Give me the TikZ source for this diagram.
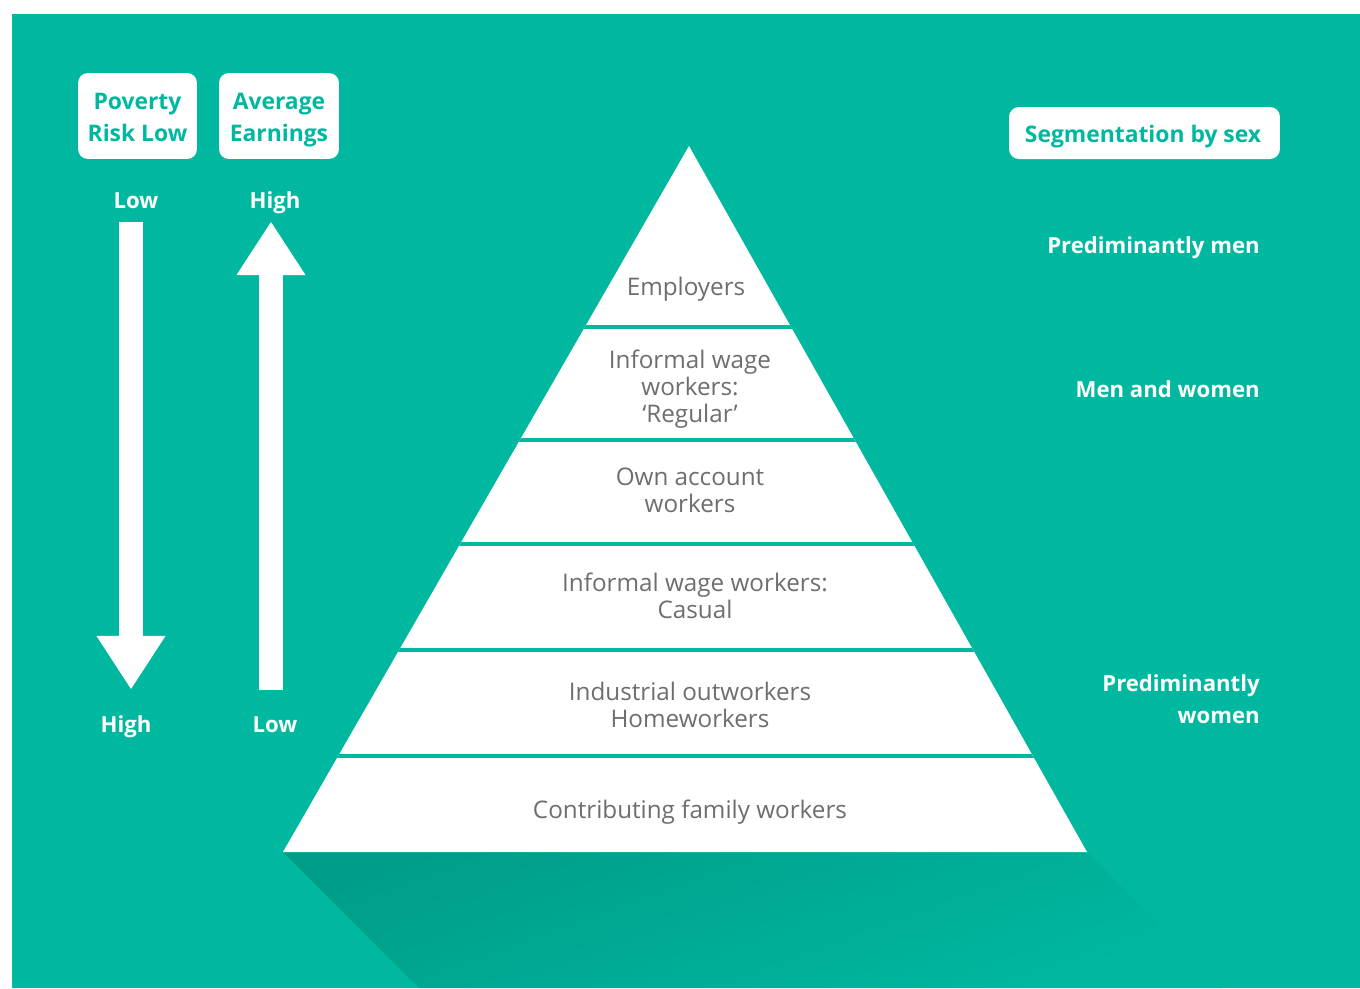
\documentclass[tikz,border=0pt]{standalone}
\usepackage{fontspec}
\setmainfont{Open Sans}
\usetikzlibrary{arrows.meta, positioning, calc}
\definecolor{cteal}{HTML}{00B8A0}
\definecolor{cshade}{HTML}{009E89}
\definecolor{cgrey}{HTML}{6D6E71}
\tikzset{
  every picture/.style={x=0.02cm, y=-0.02cm},
  struts/.style={execute at begin node=\strut, execute at end node=\strut},
  tag/.style={fill=white, rounded corners=5.7pt, inner sep=0pt},
  tagtext/.style={struts, text=cteal, align=center, inner sep=0pt, font=\bfseries\fontsize{13}{18}\selectfont},
  level/.style={struts, text=cgrey, align=center, inner sep=0pt, font=\fontsize{13.8}{15.4}\selectfont},
  side/.style={struts, text=white, align=right, anchor=east, inner sep=0pt, font=\bfseries\fontsize{12.6}{18}\selectfont},
  ends/.style={struts, text=white, inner sep=0pt, font=\bfseries\fontsize{12.6}{18}\selectfont},
  fat/.style={draw=white, line width=13.1pt, -{Triangle[length=30.2pt, width=39.3pt, line width=0pt]}},
  sep/.style={draw=cteal, line width=1.8pt},
}

\begin{document}
\begin{tikzpicture}
  % page and background
  \useasboundingbox (0,0) rectangle (1360,988);
  \fill[white] (0,0) rectangle (1360,988);
  \fill[cteal] (12,14) rectangle (1360,988);

  % pyramid corners
  \coordinate (apex) at (689,146);
  \coordinate (bl) at (283,852);
  \coordinate (br) at (1087,852);

  % long shadow under the base
  \shade[top color=cshade, bottom color=cteal, shading angle=20]
    (bl) -- (br) -- ++(136,136) -- ($(bl)+(136,136)$) -- cycle;

  % pyramid and its levels
  \fill[white] (apex) -- (br) -- (bl) -- cycle;
  \begin{scope}
    \clip (apex) -- (br) -- (bl) -- cycle;
    \foreach \y in {327,440,544,650,756}
      \draw[sep] (200,\y) -- (1200,\y);
  \end{scope}
  \node[level] (emp)  at (686,290) {Employers};
  \node[level] (reg)  at (690,390) {Informal wage\\workers:\\‘Regular’};
  \node[level] (own)  at (690,494.5) {Own account\\workers};
  \node[level] (cas)  at (695,599.5) {Informal wage workers:\\Casual};
  \node[level] (home) at (690,708.5) {Industrial outworkers\\Homeworkers};
  \node[level] (fam)  at (690,813) {Contributing family workers};

  % left scales
  \node[tag, minimum width=2.38cm, minimum height=1.72cm] (pov) at (137.5,116) {};
  \node[tag, minimum width=2.40cm, minimum height=1.72cm] (avg) at (279,116) {};
  \node[tagtext] (povtext) at (137.5,122) {Poverty\\Risk Low};
  \node[tagtext] (avgtext) at (279,122) {Average\\Earnings};
  \node[ends] (povlow)  at (136,202) {Low};
  \node[ends] (avghigh) at (275,202) {High};
  \node[ends] (povhigh) at (126,726) {High};
  \node[ends] (avglow)  at (275,726) {Low};
  \coordinate (povtop) at (131,222);
  \coordinate (povend) at (131,689);
  \coordinate (avgtop) at (271,222);
  \coordinate (avgend) at (271,690);
  \draw[fat] (povtop) -- (povend);
  \draw[fat] (avgend) -- (avgtop);

  % segmentation by sex
  \node[tag, minimum width=5.42cm, minimum height=1.04cm] (seg) at (1144.5,133) {};
  \node[tagtext] (segtext) at (1143,136) {Segmentation by sex};
  \node[side] (men)   at (1260,247) {Prediminantly men};
  \node[side] (mixed) at (1260,391) {Men and women};
  \node[side] (women) at (1260,704) {Prediminantly\\women};
\end{tikzpicture}
\end{document}
